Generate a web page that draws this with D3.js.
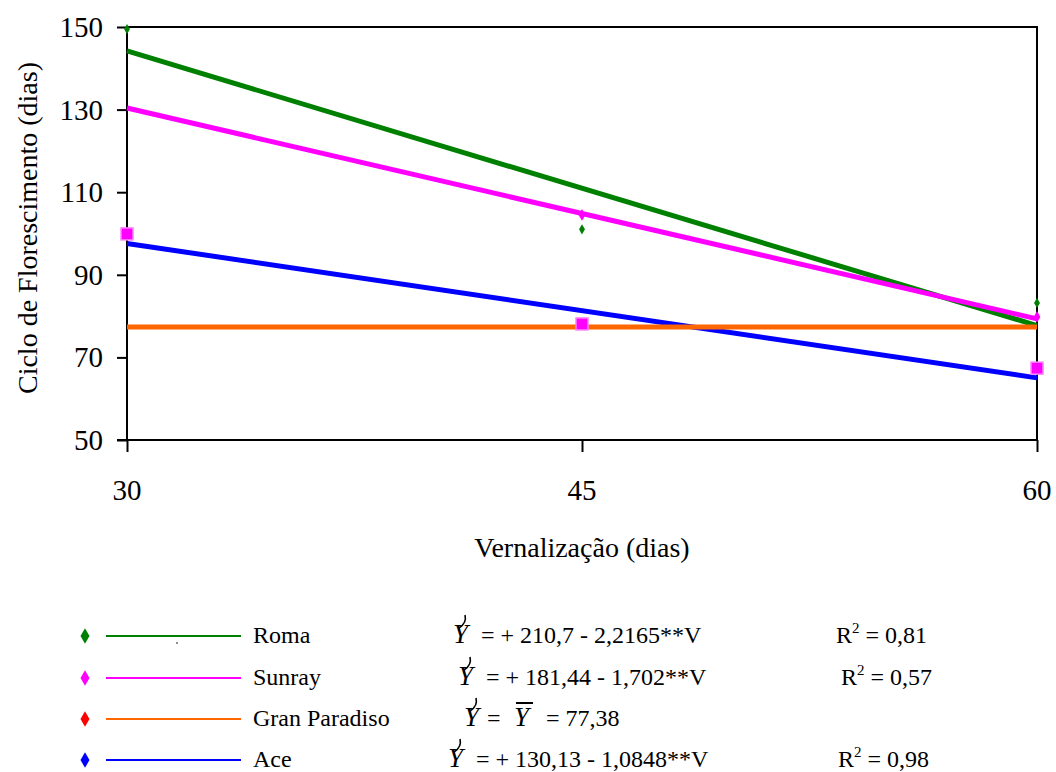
<!DOCTYPE html>
<html>
<head>
<meta charset="UTF-8">
<style>
  @font-face { font-family: "ChartSerif"; src: local("Liberation Serif"), local("LiberationSerif-Regular"), local("LiberationSerif"); font-style: normal; }
  @font-face { font-family: "ChartSerif"; src: local("Liberation Serif Italic"), local("LiberationSerif-Italic"); font-style: italic; }
</style>
<script src="https://d3js.org/d3.v7.min.js"></script>
</head>
<body style="margin:0">
<script>
// cultivars, regression coefficients and legend texts
const cultivars = ["Roma", "Sunray", "Gran Paradiso", "Ace"];
const lineColors = ["#008000", "#ff00ff", "#ff6600", "#0000ff"];
const keyColors = ["#008000", "#ff00ff", "#ff0000", "#0000ff"];
const intercepts = [210.7, 181.44, 77.38, 130.13];
const slopes = [-2.2165, -1.702, 0, -1.0848];
const eqTexts = ["= + 210,7 - 2,2165**V", "= + 181,44 - 1,702**V", "= 77,38", "= + 130,13 - 1,0848**V"];
const r2Texts = ["0,81", "0,57", "", "0,98"];

const days = [30, 45, 60];
const romaObs = [149.5, 101, 83.2];
const sunrayObs = [null, 104.5, 79.8];
const aceObs = [99.9, 78.1, 67.4];

const xTicks = [30, 45, 60];
const yTicks = [50, 70, 90, 110, 130, 150];

const W = 1056, H = 772;
const FONT = '"Liberation Serif", ChartSerif, Tinos, "Times New Roman", serif';

const svg = d3.select("body").append("svg")
  .attr("width", W).attr("height", H)
  .style("display", "block");

const x = d3.scaleLinear().domain([30, 60]).range([127, 1037]);
const y = d3.scaleLinear().domain([50, 150]).range([440, 27]);

function label(px, py, size, str) {
  return svg.append("text").attr("x", px).attr("y", py)
    .attr("font-family", FONT).style("font-family", FONT)
    .attr("font-size", size).attr("fill", "#000").text(str);
}

// frame (top and right)
svg.append("path")
  .attr("d", `M${x(30)},${y(150)}H${x(60)}V${y(50)}`)
  .attr("fill", "none").attr("stroke", "#000").attr("stroke-width", 2);

// axes: lines and ticks from d3.axis, labels as own text through the scales
const yAxis = svg.append("g")
  .attr("transform", `translate(${x(30)},0)`)
  .call(d3.axisLeft(y).tickValues(yTicks).tickSize(10).tickFormat(""));
const xAxis = svg.append("g")
  .attr("transform", `translate(0,${y(50)})`)
  .call(d3.axisBottom(x).tickValues(xTicks).tickSize(12).tickFormat(""));
[yAxis, xAxis].forEach(g => {
  g.selectAll("text").remove();
  g.selectAll("path, line").attr("stroke", "#000").attr("stroke-width", 2);
});
yAxis.select(".domain").attr("d", `M0,${y(150)}V${y(50)}`);
xAxis.select(".domain").attr("d", `M${x(30) - 10},0H${x(60)}`);

yTicks.forEach(t => label(x(30) - 24, y(t) + 10, 29, t).attr("text-anchor", "end"));
xTicks.forEach(t => label(x(t), y(50) + 60, 29, t).attr("text-anchor", "middle"));

label(582, 557, 28, "Vernalização (dias)").attr("text-anchor", "middle");
label(0, 0, 28, "Ciclo de Florescimento (dias)")
  .attr("transform", "translate(37,228) rotate(-90)").attr("text-anchor", "middle");

// regression lines
const drawOrder = [0, 1, 3, 2];
drawOrder.forEach(i => {
  svg.append("line")
    .attr("x1", x(30)).attr("y1", y(intercepts[i] + slopes[i] * 30))
    .attr("x2", x(60)).attr("y2", y(intercepts[i] + slopes[i] * 60))
    .attr("stroke", lineColors[i]).attr("stroke-width", 5);
});

// observed markers
const diamond = d3.symbol().type(d3.symbolDiamond);
days.forEach((d, j) => {
  if (romaObs[j] != null)
    svg.append("path").attr("d", diamond.size(30)())
      .attr("transform", `translate(${x(d)},${y(romaObs[j])})`).attr("fill", "#008000");
  if (sunrayObs[j] != null)
    svg.append("path").attr("d", diamond.size(40)())
      .attr("transform", `translate(${x(d)},${y(sunrayObs[j])})`).attr("fill", "#ff00ff");
  svg.append("rect")
    .attr("x", x(d) - 6).attr("y", y(aceObs[j]) - 6).attr("width", 12).attr("height", 12)
    .attr("fill", "#ff00ff").attr("stroke", "#ff80ff").attr("stroke-width", 1.5);
});

// legend
const baselines = [643, 685, 726, 767];
const yhatX = [453, 458, 464, 448];
const eqX = [481, 486, 487, 476];
const r2X = [836, 841, 0, 838];

cultivars.forEach((c, i) => {
  const b = baselines[i];
  svg.append("path").attr("d", d3.symbol().type(d3.symbolDiamond).size(70)())
    .attr("transform", `translate(85,${b - 7})`).attr("fill", keyColors[i]);
  svg.append("line").attr("x1", 106).attr("x2", 241).attr("y1", b - 7).attr("y2", b - 7)
    .attr("stroke", lineColors[i]).attr("stroke-width", 2);
  label(253, b, 24, c);

  // Y with hat stroke
  label(yhatX[i], b, 27, "Y").attr("font-style", "italic");
  svg.append("path")
    .attr("d", `M${yhatX[i] + 12},${b - 28} Q${yhatX[i] + 14},${b - 20} ${yhatX[i] + 6},${b - 15}`)
    .attr("fill", "none").attr("stroke", "#000").attr("stroke-width", 1.6);

  if (i === 2) {
    label(eqX[i], b, 24, "=");
    label(514, b, 27, "Y").attr("font-style", "italic");
    svg.append("line").attr("x1", 516).attr("x2", 533).attr("y1", b - 23).attr("y2", b - 23)
      .attr("stroke", "#000").attr("stroke-width", 2);
    label(546, b, 24, eqTexts[i]);
  } else {
    label(eqX[i], b, 24, eqTexts[i]);
    const t = label(r2X[i], b, 24, null);
    t.append("tspan").text("R");
    t.append("tspan").attr("font-size", 15).attr("dy", -10).text("2");
    t.append("tspan").attr("dy", 10).text(" = " + r2Texts[i]);
  }
});

// stray dot in the Roma key
svg.append("circle").attr("cx", 177).attr("cy", 643).attr("r", 0.8).attr("fill", "#000");
</script>
</body>
</html>
